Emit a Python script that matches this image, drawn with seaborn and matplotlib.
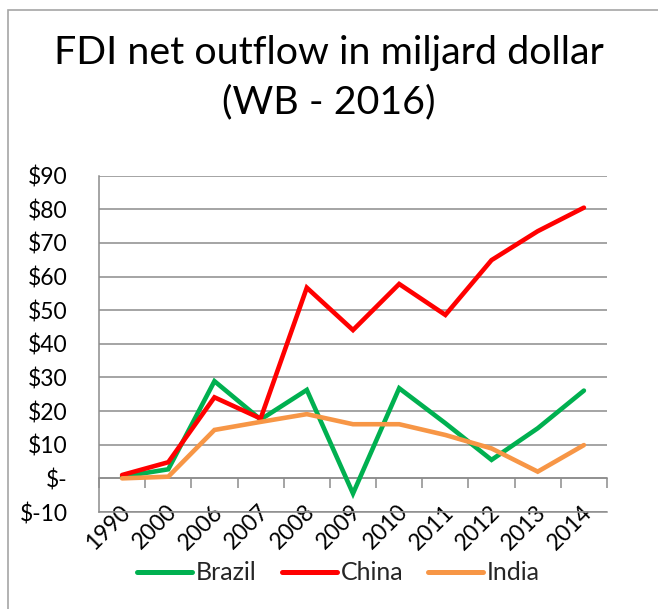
import pandas as pd
import matplotlib
matplotlib.use("Agg")
import matplotlib.pyplot as plt
import matplotlib.transforms as mtransforms
import seaborn as sns
from matplotlib.patches import Rectangle
from matplotlib.ticker import FuncFormatter, FixedLocator

# Data (billion USD)
YEARS = ["1990", "2000", "2006", "2007", "2008", "2009", "2010", "2011", "2012", "2013", "2014"]
BRAZIL = [0.5, 2.7, 28.9, 17.5, 26.3, -4.5, 26.8, 16.4, 5.5, 14.9, 26.1]
CHINA = [1.0, 4.8, 24.1, 17.8, 56.7, 44.1, 57.8, 48.6, 64.9, 73.5, 80.5]
INDIA = [0.0, 0.5, 14.4, 16.8, 19.1, 16.1, 16.1, 12.9, 8.9, 2.0, 9.9]
COUNTRIES = ["Brazil", "China", "India"]
COLORS = {"Brazil": "#00B050", "China": "#FF0000", "India": "#F79646"}
Y_TICKS = list(range(-10, 100, 10))

df = pd.DataFrame({"year": YEARS, "Brazil": BRAZIL, "China": CHINA, "India": INDIA})
long_df = df.melt(id_vars="year", var_name="country", value_name="fdi")

sns.set_style("white")
plt.rcParams["font.family"] = ["Lato", "DejaVu Sans"]

fig = plt.figure(figsize=(6.58, 6.09), dpi=100)
ax = fig.add_axes([99 / 658, 1 - 512 / 609, 508 / 658, 336.3 / 609])

sns.lineplot(data=long_df, x="year", y="fdi", hue="country", hue_order=COUNTRIES,
             palette=COLORS, linewidth=3.3, sort=False, ax=ax)
for line in ax.lines:
    line.set_solid_capstyle("round")
    line.set_solid_joinstyle("miter")

ax.set_xlim(-0.5, len(YEARS) - 0.5)
ax.set_ylim(-10, 90)
ax.yaxis.set_major_locator(FixedLocator(Y_TICKS))


def money(v, pos):
    v = int(round(v))
    if v == 0:
        return "$-"
    return f"${v}"


ax.yaxis.set_major_formatter(FuncFormatter(money))
ax.grid(axis="y", color="#8c8c8c", linewidth=1.1)
ax.grid(axis="x", visible=False)
ax.set_axisbelow(True)

for side in ["top", "right"]:
    ax.spines[side].set_visible(False)
ax.spines["left"].set_color("#8c8c8c")
ax.spines["left"].set_linewidth(1.1)
ax.spines["bottom"].set_color("#8c8c8c")
ax.spines["bottom"].set_linewidth(1.1)

ax.tick_params(axis="y", length=6, width=1.1, color="#8c8c8c", labelsize=16.5, pad=16.5,
               direction="out", labelcolor="black")
ax.tick_params(axis="x", length=0, labelsize=16.5, pad=-2.5, labelcolor="black")
shift = mtransforms.ScaledTranslation(5 / 100, 0, fig.dpi_scale_trans)
for lbl in ax.get_xticklabels():
    lbl.set_rotation(45)
    lbl.set_ha("right")
    lbl.set_va("center")
    lbl.set_rotation_mode("anchor")
    lbl.set_transform(lbl.get_transform() + shift)
ax.set_xlabel("")
ax.set_ylabel("")

# category axis crossing at $0 with tick marks between categories
sec = ax.secondary_xaxis(0.1)
sec.set_xticks([i - 0.5 for i in range(len(YEARS) + 1)])
sec.tick_params(axis="x", length=7, width=1.1, color="#8c8c8c", labelbottom=False, direction="out")
sec.spines["bottom"].set_color("#8c8c8c")
sec.spines["bottom"].set_linewidth(1.1)

ax.legend_.remove()
handles, labels = ax.get_legend_handles_labels()
for h in handles:
    h.set_linewidth(3.6)
fig.legend(handles, labels, loc="center", bbox_to_anchor=(338.5 / 658, 1 - 573 / 609), ncol=3,
           frameon=False, fontsize=18, handlelength=2.2, handletextpad=0.15, columnspacing=1.0)

fig.text(0.5, 1 - 64 / 609, "FDI net outflow in miljard dollar", ha="center", va="baseline",
         fontsize=28.4, color="black")
fig.text(0.5, 1 - 113 / 609, "(WB - 2016)", ha="center", va="baseline", fontsize=28.4, color="black")

# chart area border
fig.patches.append(Rectangle((8 / 658, -0.1), 1.2, 1 - 10 / 609 + 0.1, transform=fig.transFigure,
                             fill=False, edgecolor="#a6a6a6", linewidth=1.2))

fig.savefig("out.png", dpi=100)
